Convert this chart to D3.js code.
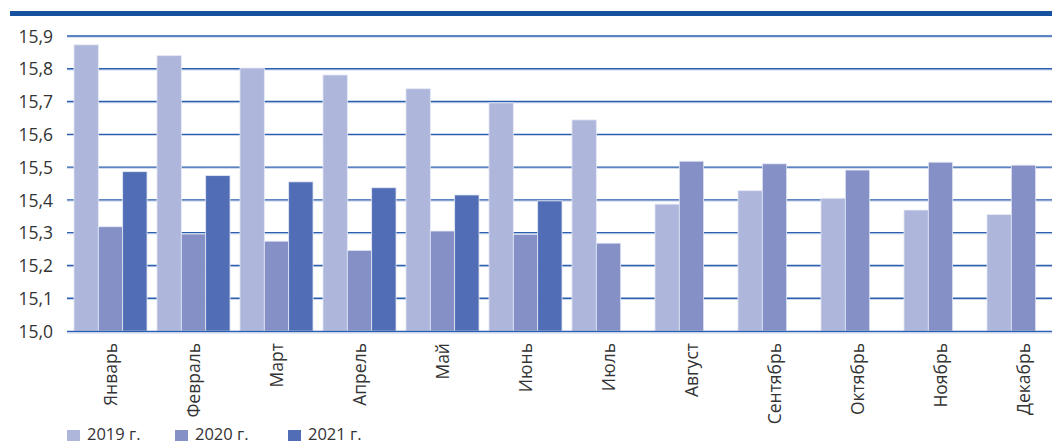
<!DOCTYPE html>
<html><head><meta charset="utf-8">
<script src="https://cdn.jsdelivr.net/npm/d3@7"></script>
<style>body{margin:0;background:#fff}svg{display:block}text{font-family:"Open Sans",sans-serif}</style>
</head><body><svg id="c" width="1052" height="445"></svg>
<script>
const months = ["Январь","Февраль","Март","Апрель","Май","Июнь","Июль","Август","Сентябрь","Октябрь","Ноябрь","Декабрь"];
const seriesNames = ["2019 г.","2020 г.","2021 г."];
const v2019 = [15.873,15.840,15.802,15.781,15.739,15.696,15.644,15.387,15.428,15.405,15.369,15.355];
const v2020 = [15.318,15.296,15.274,15.246,15.305,15.295,15.268,15.518,15.510,15.491,15.515,15.506];
const v2021 = [15.486,15.474,15.455,15.437,15.415,15.397,null,null,null,null,null,null];
const yTicks = [15.0,15.1,15.2,15.3,15.4,15.5,15.6,15.7,15.8,15.9];
const colors = ["#aeb6db","#8490c6","#506db5"];
const series = [v2019, v2020, v2021];

const svg = d3.select("#c");
svg.append("rect").attr("x",10).attr("y",11).attr("width",1042).attr("height",5).attr("fill","#1652a0");

const y = d3.scaleLinear().domain([15.0,15.9]).range([331,36]);
const x = d3.scaleBand().domain(months).range([69,1065]).paddingInner(0.12).paddingOuter(0.06);
const xs = d3.scaleBand().domain(d3.range(3)).range([0,x.bandwidth()]);

// gridlines
const g = svg.append("g");
yTicks.filter(t=>t>15.0).forEach(t=>{
  g.append("line").attr("x1",67).attr("x2",1052).attr("y1",y(t)+1.2).attr("y2",y(t)+1.2).attr("stroke","#c9d3ea").attr("stroke-width",1);
  g.append("line").attr("x1",67).attr("x2",1052).attr("y1",y(t)).attr("y2",y(t)).attr("stroke","#2a5eae").attr("stroke-width",1.4);
});

// bars
months.forEach((m,i)=>{
  series.forEach((s,k)=>{
    if(s[i]==null) return;
    svg.append("rect").attr("x",x(m)+xs(k)).attr("y",y(s[i])).attr("width",xs.bandwidth()).attr("height",y(15.0)-y(s[i]))
      .attr("fill",colors[k]).attr("stroke","#e4e8f4").attr("stroke-width",0.8);
  });
});

// axis baseline
svg.append("line").attr("x1",67).attr("x2",1052).attr("y1",331.5).attr("y2",331.5).attr("stroke","#2a5eae").attr("stroke-width",1.6);
svg.append("line").attr("x1",67).attr("x2",1052).attr("y1",333).attr("y2",333).attr("stroke","#c9d3ea").attr("stroke-width",1);

// y axis labels
const yAxis = d3.axisLeft(y).tickValues(yTicks).tickSize(0).tickPadding(0).tickFormat(d=>d.toFixed(1).replace(".",","));
const ya = svg.append("g").attr("transform","translate(53,0)").call(yAxis);
ya.select(".domain").remove();
ya.selectAll("text").attr("font-size",17.5).attr("fill","#333").attr("font-family","'Open Sans',sans-serif").attr("dy","0.35em");

// x axis labels
const xAxis = d3.axisBottom(x).tickSize(0).tickPadding(0);
const xa = svg.append("g").attr("transform","translate(0,343)").call(xAxis);
xa.select(".domain").remove();
xa.selectAll("text").attr("font-size",17.5).attr("fill","#333").attr("font-family","'Open Sans',sans-serif")
  .attr("transform","rotate(-90)").attr("text-anchor","end").attr("x",0).attr("y",0).attr("dy","0.35em").attr("dx",0);

// legend
const lx = [67,175,288];
seriesNames.forEach((n,k)=>{
  svg.append("rect").attr("x",lx[k]).attr("y",430).attr("width",13).attr("height",11).attr("fill",colors[k]);
  svg.append("text").attr("x",lx[k]+20).attr("y",440).attr("font-size",16.5).attr("fill","#333").text(n);
});
</script></body></html>
